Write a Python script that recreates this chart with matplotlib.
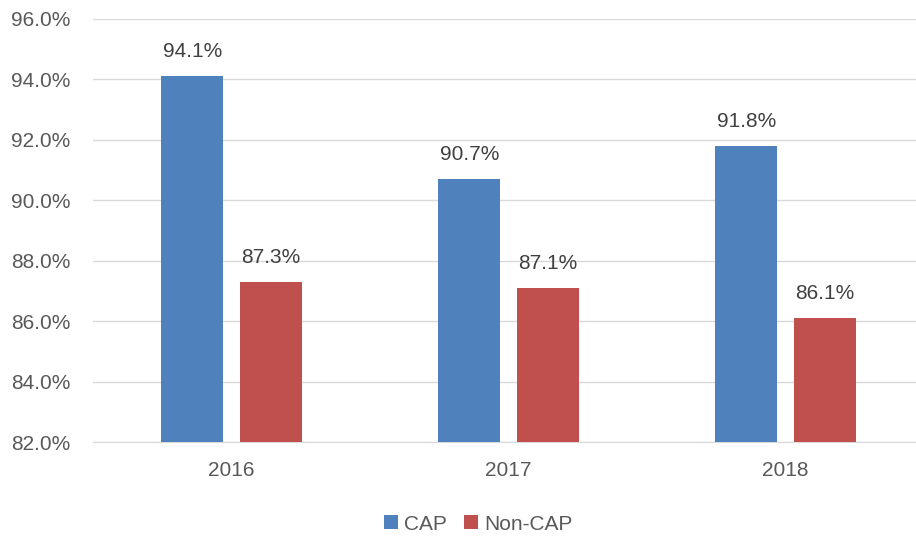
import matplotlib
matplotlib.use("Agg")
import matplotlib.pyplot as plt
import numpy as np

years = ["2016", "2017", "2018"]
cap = [94.1, 90.7, 91.8]
noncap = [87.3, 87.1, 86.1]
yticks = [82, 84, 86, 88, 90, 92, 94, 96]

plt.rcParams['font.family'] = ['Liberation Sans', 'DejaVu Sans']
FS = 15
fig = plt.figure(figsize=(9.16, 5.37), dpi=100)
ax = fig.add_axes([93/916, (537-442)/537, 831/916, (442-19)/537])

x = np.arange(len(years))
w = 0.224
off = 0.141
b1 = ax.bar(x - off, cap, w, color="#4F81BD", label="CAP", zorder=3)
b2 = ax.bar(x + off, noncap, w, color="#C0504D", label="Non-CAP", zorder=3)
for bars, vals in ((b1, cap), (b2, noncap)):
    for r, v in zip(bars, vals):
        ax.text(r.get_x() + r.get_width()/2, v + 0.5, f"{v:.1f}%", ha="center", va="bottom",
                fontsize=FS, color="#404040")

ax.set_xlim(-0.5, 2.5)
ax.set_ylim(82, 96)
ax.set_yticks(yticks)
ax.set_yticklabels([f"{t:.1f}%" for t in yticks], fontsize=FS, color="#595959")
ax.set_xticks(x)
ax.set_xticklabels(years, fontsize=FS, color="#595959")
ax.tick_params(axis='y', length=0, pad=16.5)
ax.tick_params(axis='x', length=0, pad=14)
ax.grid(axis='y', color="#D9D9D9", linewidth=1, zorder=0)
for s in ["top", "right", "left"]:
    ax.spines[s].set_visible(False)
ax.spines["bottom"].set_color("#D9D9D9")

fig.legend(handles=[b1, b2], labels=["CAP", "Non-CAP"], loc="center", bbox_to_anchor=(0.522, 1 - 524/537),
           ncol=2, frameon=False, fontsize=FS, handlelength=0.67, handleheight=0.67,
           columnspacing=0.8, handletextpad=0.3, labelcolor="#595959")

fig.savefig("out.png", dpi=100)
